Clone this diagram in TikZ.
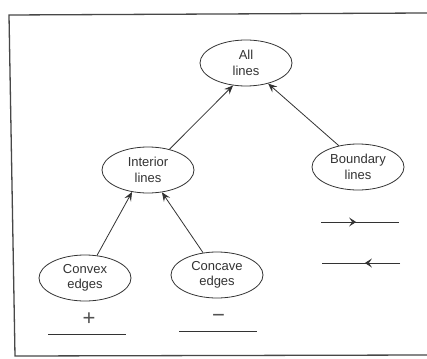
\documentclass[tikz,border=0pt]{standalone}
\usepackage{fontspec}
\setmainfont{Liberation Sans}
\usetikzlibrary{shapes.geometric,arrows.meta,decorations.markings}
\definecolor{ink}{HTML}{333333}
\tikzset{
  oval/.style={draw=ink, line width=0.8pt, ellipse, minimum width=92pt, minimum height=46pt,
    inner sep=0pt, align=center, font=\fontsize{13}{15.5}\selectfont, text=ink},
  tip/.style={Stealth[length=8pt,width=8pt,inset=3.5pt]},
  arr/.style={draw=ink, line width=0.8pt, -{Stealth[length=9pt,width=7.5pt,inset=3.5pt]}},
  rule/.style={draw=ink, line width=0.8pt},
  midarrow/.style={rule, postaction={decorate},
    decoration={markings, mark=at position #1 with {\arrow{Stealth[length=7pt,width=9pt,inset=3pt]}}}},
  sign/.style={font=\fontsize{22}{22}\selectfont, text=ink!85, inner sep=0pt}
}
\begin{document}
\begin{tikzpicture}[x=1pt,y=-1pt]
  \useasboundingbox (0,0) rectangle (427,358);
  \fill[white] (0,0) rectangle (427,358);
  % page frame
  \draw[draw=ink!90, line width=1.3pt] (427,13) -- (9,15) -- (15,356) -- (427,355);

  % hierarchy of line labels
  \node[oval] (all)      at (246,63)  {All\\lines};
  \node[oval] (interior) at (148,170) {Interior\\lines};
  \node[oval] (boundary) at (358,167) {Boundary\\lines};
  \node[oval] (convex)   at (85,278)  {Convex\\edges};
  \node[oval] (concave)  at (217,275) {Concave\\edges};

  \draw[arr] (interior.44) -- (all.240);
  \draw[arr] (boundary.132) -- (all.317);
  \draw[arr] (convex.62) -- (interior.234);
  \draw[arr] (concave.122) -- (interior.302);

  % line labelling symbols
  \node[sign] (plus)  at (89,319.5) {+};
  \node[sign] (minus) at (218.5,318) {\char"2212};
  \coordinate (p1) at (48,334);  \coordinate (p2) at (126,334);
  \coordinate (m1) at (179,331); \coordinate (m2) at (257,331);
  \draw[rule] (p1) -- (p2);
  \draw[rule] (m1) -- (m2);

  \coordinate (r1) at (321,222); \coordinate (r2) at (399,222);
  \coordinate (l1) at (400,263); \coordinate (l2) at (322,263);
  \draw[midarrow=0.45] (r1) -- (r2);
  \draw[midarrow=0.45] (l1) -- (l2);
\end{tikzpicture}
\end{document}
